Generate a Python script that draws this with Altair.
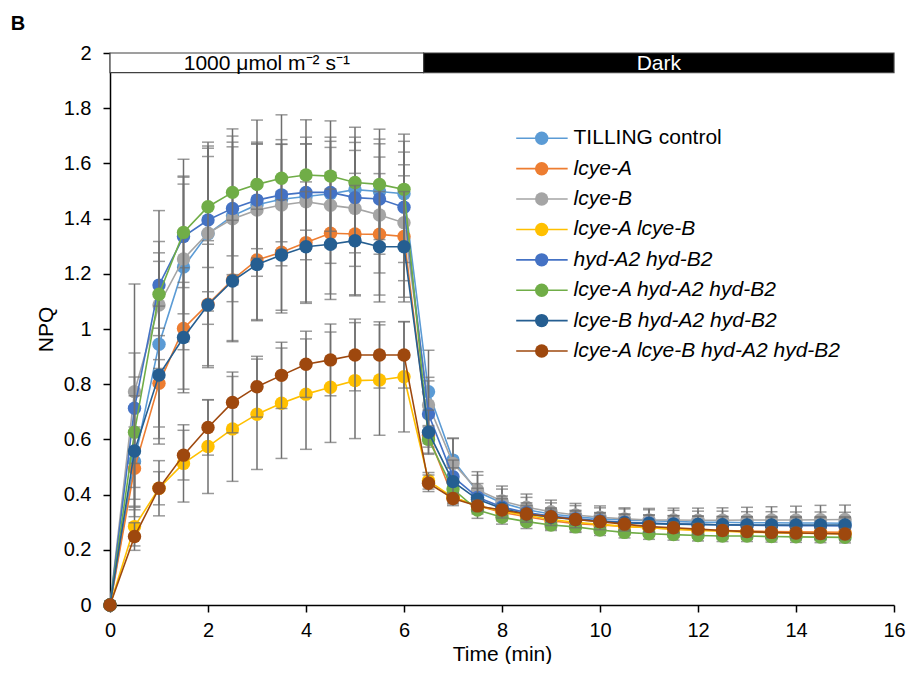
import altair as alt
import pandas as pd

# ---------------- data ----------------
times = [0, 0.5, 1, 1.5, 2, 2.5, 3, 3.5, 4, 4.5, 5, 5.5, 6,
         6.5, 7, 7.5, 8, 8.5, 9, 9.5, 10, 10.5, 11, 11.5, 12, 12.5, 13, 13.5, 14, 14.5, 15]

series_names = ["TILLING control", "lcye-A", "lcye-B", "lcye-A lcye-B", "hyd-A2 hyd-B2",
                "lcye-A hyd-A2 hyd-B2", "lcye-B hyd-A2 hyd-B2", "lcye-A lcye-B hyd-A2 hyd-B2"]
series_colors = ["#5B9BD5", "#ED7D31", "#A5A5A5", "#FFC000", "#4472C4",
                 "#70AD47", "#255E91", "#9E480E"]
series_italic = [False, True, True, True, True, True, True, True]

tilling = [0, 0.52, 0.945, 1.225, 1.345, 1.41, 1.45, 1.47, 1.48, 1.49, 1.505, 1.498, 1.49,
           0.773, 0.525, 0.41, 0.37, 0.345, 0.33, 0.32, 0.312, 0.308, 0.305, 0.303, 0.30, 0.30,
           0.298, 0.298, 0.297, 0.297, 0.296]
lcye_a = [0, 0.495, 0.803, 1.002, 1.09, 1.178, 1.25, 1.278, 1.313, 1.347, 1.344, 1.343, 1.335,
          0.615, 0.39, 0.36, 0.335, 0.32, 0.305, 0.295, 0.29, 0.285, 0.28, 0.275, 0.272, 0.27,
          0.268, 0.266, 0.265, 0.264, 0.263]
lcye_b = [0, 0.773, 1.087, 1.254, 1.347, 1.399, 1.431, 1.449, 1.461, 1.448, 1.437, 1.413, 1.385,
          0.725, 0.513, 0.417, 0.377, 0.354, 0.338, 0.326, 0.318, 0.312, 0.308, 0.308, 0.307, 0.307,
          0.308, 0.308, 0.308, 0.309, 0.31]
lcye_ab = [0, 0.284, 0.423, 0.513, 0.574, 0.638, 0.691, 0.731, 0.764, 0.789, 0.813, 0.815, 0.827,
           0.45, 0.39, 0.36, 0.34, 0.325, 0.31, 0.30, 0.292, 0.285, 0.28, 0.275, 0.27, 0.267,
           0.264, 0.262, 0.26, 0.259, 0.258]
hyd = [0, 0.713, 1.159, 1.335, 1.395, 1.437, 1.467, 1.486, 1.495, 1.495, 1.476, 1.471, 1.441,
       0.692, 0.465, 0.39, 0.355, 0.335, 0.322, 0.313, 0.305, 0.30, 0.297, 0.294, 0.292, 0.29,
       0.289, 0.288, 0.287, 0.287, 0.286]
lcye_a_hyd = [0, 0.626, 1.126, 1.35, 1.443, 1.495, 1.524, 1.546, 1.558, 1.554, 1.531, 1.524, 1.506,
              0.60, 0.42, 0.344, 0.318, 0.302, 0.29, 0.283, 0.272, 0.263, 0.258, 0.255, 0.252, 0.25,
              0.25, 0.248, 0.247, 0.246, 0.245]
lcye_b_hyd = [0, 0.558, 0.833, 0.969, 1.087, 1.174, 1.234, 1.268, 1.298, 1.307, 1.32, 1.298, 1.298,
              0.626, 0.447, 0.383, 0.35, 0.33, 0.318, 0.31, 0.303, 0.298, 0.295, 0.293, 0.292, 0.291,
              0.29, 0.29, 0.29, 0.29, 0.29]
lcye_ab_hyd = [0, 0.248, 0.423, 0.543, 0.643, 0.734, 0.791, 0.832, 0.872, 0.888, 0.906, 0.906, 0.906,
               0.441, 0.386, 0.359, 0.344, 0.33, 0.32, 0.31, 0.302, 0.293, 0.284, 0.28, 0.275, 0.27,
               0.266, 0.263, 0.261, 0.259, 0.257]

err_tilling = [0, 0.2, 0.3, 0.3, 0.28, 0.25, 0.22, 0.2, 0.19, 0.19, 0.19, 0.19, 0.19,
               0.15, 0.08, 0.06, 0.05, 0.045, 0.04, 0.04, 0.04, 0.04, 0.04, 0.04, 0.04, 0.04,
               0.04, 0.04, 0.04, 0.04, 0.04]
err_lcye_a = [0, 0.15, 0.2, 0.22, 0.23, 0.22, 0.22, 0.22, 0.22, 0.22, 0.22, 0.22, 0.22,
              0.03, 0.03, 0.03, 0.03, 0.03, 0.03, 0.03, 0.03, 0.03, 0.03, 0.03, 0.03, 0.03,
              0.03, 0.03, 0.03, 0.03, 0.03]
err_lcye_b = [0, 0.39, 0.23, 0.3, 0.33, 0.3, 0.24, 0.22, 0.21, 0.21, 0.21, 0.21, 0.21,
              0.1, 0.09, 0.066, 0.054, 0.048, 0.042, 0.042, 0.041, 0.04, 0.042, 0.043, 0.044,
              0.045, 0.046, 0.048, 0.05, 0.052, 0.052]
err_lcye_ab = [0, 0.07, 0.1, 0.14, 0.17, 0.19, 0.2, 0.2, 0.2, 0.2, 0.21, 0.2, 0.2,
               0.03, 0.02, 0.02, 0.02, 0.02, 0.02, 0.02, 0.02, 0.02, 0.02, 0.02, 0.02, 0.02,
               0.02, 0.02, 0.02, 0.02, 0.02]
err_hyd = [0, 0.2, 0.27, 0.28, 0.26, 0.24, 0.21, 0.2, 0.2, 0.2, 0.2, 0.2, 0.2,
           0.12, 0.06, 0.05, 0.04, 0.035, 0.03, 0.03, 0.03, 0.03, 0.03, 0.03, 0.03, 0.03,
           0.03, 0.03, 0.03, 0.03, 0.03]
err_lcye_a_hyd = [0, 0.2, 0.15, 0.2, 0.22, 0.23, 0.233, 0.23, 0.2, 0.2, 0.2, 0.2, 0.2,
                  0.05, 0.03, 0.03, 0.025, 0.025, 0.02, 0.02, 0.02, 0.02, 0.02, 0.02, 0.02, 0.02,
                  0.02, 0.02, 0.02, 0.02, 0.02]
err_lcye_b_hyd = [0, 0.2, 0.25, 0.2, 0.22, 0.22, 0.2, 0.2, 0.2, 0.2, 0.2, 0.2, 0.2,
                  0.08, 0.05, 0.04, 0.035, 0.03, 0.03, 0.03, 0.03, 0.03, 0.03, 0.03, 0.03, 0.03,
                  0.03, 0.03, 0.03, 0.03, 0.03]
err_lcye_ab_hyd = [0, 0.05, 0.06, 0.09, 0.1, 0.11, 0.11, 0.12, 0.12, 0.13, 0.13, 0.12, 0.12,
                   0.03, 0.02, 0.02, 0.02, 0.02, 0.02, 0.02, 0.02, 0.02, 0.02, 0.02, 0.02, 0.02,
                   0.02, 0.02, 0.02, 0.02, 0.02]

values = [tilling, lcye_a, lcye_b, lcye_ab, hyd, lcye_a_hyd, lcye_b_hyd, lcye_ab_hyd]
errors = [err_tilling, err_lcye_a, err_lcye_b, err_lcye_ab, err_hyd, err_lcye_a_hyd,
          err_lcye_b_hyd, err_lcye_ab_hyd]

# light / dark bar
light_end = 6.4
x_max = 16
bar_bottom, bar_top = 1.929, 2.0
light_label = "1000 \u03bcmol m\u207b\u00b2 s\u207b\u00b9"
dark_label = "Dark"

FONT = "Liberation Sans"

x_scale = alt.Scale(domain=[0, 16], nice=False, zero=False)
y_scale = alt.Scale(domain=[0, 2], nice=False, zero=False)
x_axis = alt.Axis(title="Time (min)", values=list(range(0, 17, 2)), format="d",
                  labelPadding=8, titlePadding=3, labelFlush=False)
y_axis = alt.Axis(title="NPQ", values=[round(0.2 * i, 1) for i in range(11)], format=".1~f",
                  labelPadding=12, titlePadding=7, labelFlush=False)

layers = []

# base axes layer (invisible points)
axis_df = pd.DataFrame({"t": [0, 16], "v": [0, 2]})
layers.append(
    alt.Chart(axis_df).mark_point(opacity=0).encode(
        x=alt.X("t:Q", scale=x_scale, axis=x_axis),
        y=alt.Y("v:Q", scale=y_scale, axis=y_axis),
    )
)

for name, color, vals, errs in zip(series_names, series_colors, values, errors):
    df = pd.DataFrame({"t": times, "v": vals, "e": errs})
    df["lo"] = df["v"] - df["e"]
    df["hi"] = df["v"] + df["e"]
    base = alt.Chart(df)
    eb = base.transform_filter("datum.e > 0")
    layers.append(eb.mark_rule(color="#6f6f6f", strokeWidth=1.5).encode(
        x=alt.X("t:Q", scale=x_scale), y=alt.Y("lo:Q", scale=y_scale), y2="hi:Q"))
    layers.append(eb.mark_tick(color="#6f6f6f", thickness=1.5, size=12, orient="horizontal").encode(
        x=alt.X("t:Q", scale=x_scale), y=alt.Y("lo:Q", scale=y_scale)))
    layers.append(eb.mark_tick(color="#6f6f6f", thickness=1.5, size=12, orient="horizontal").encode(
        x=alt.X("t:Q", scale=x_scale), y=alt.Y("hi:Q", scale=y_scale)))
    layers.append(base.mark_line(color=color, strokeWidth=1.6).encode(
        x=alt.X("t:Q", scale=x_scale), y=alt.Y("v:Q", scale=y_scale)))
    layers.append(base.mark_circle(color=color, size=180, opacity=1).encode(
        x=alt.X("t:Q", scale=x_scale), y=alt.Y("v:Q", scale=y_scale)))

# top light/dark bar
bar_df = pd.DataFrame({
    "x0": [0, light_end], "x1": [light_end, x_max],
    "y0": [bar_bottom, bar_bottom], "y1": [bar_top, bar_top],
    "label": [light_label, dark_label],
    "fill": ["white", "black"], "tc": ["black", "white"],
})
bar_df["xm"] = (bar_df["x0"] + bar_df["x1"]) / 2
bar_df["ym"] = (bar_df["y0"] + bar_df["y1"]) / 2
layers.append(alt.Chart(bar_df).mark_rect(stroke="#404040", strokeWidth=1.2).encode(
    x=alt.X("x0:Q", scale=x_scale), x2="x1:Q",
    y=alt.Y("y0:Q", scale=y_scale), y2="y1:Q",
    fill=alt.Fill("fill:N", scale=None)))
layers.append(alt.Chart(bar_df).mark_text(font=FONT, fontSize=21, baseline="middle", dy=1).encode(
    x=alt.X("xm:Q", scale=x_scale), y=alt.Y("ym:Q", scale=y_scale),
    text="label:N", color=alt.Color("tc:N", scale=None)))

# manual legend (in data space, right side of plot)
leg_y0 = 1.691
leg_step = 0.1101
leg_df = pd.DataFrame({
    "name": series_names, "color": series_colors, "italic": series_italic,
    "y": [leg_y0 - i * leg_step for i in range(len(series_names))],
})
leg_df["x0"] = 8.29
leg_df["x1"] = 9.34
leg_df["xm"] = 8.81
leg_df["xt"] = 9.46
leg = alt.Chart(leg_df)
layers.append(leg.mark_rule(strokeWidth=1.6).encode(
    x=alt.X("x0:Q", scale=x_scale), x2="x1:Q", y=alt.Y("y:Q", scale=y_scale),
    color=alt.Color("color:N", scale=None)))
layers.append(leg.mark_circle(size=180, opacity=1).encode(
    x=alt.X("xm:Q", scale=x_scale), y=alt.Y("y:Q", scale=y_scale),
    color=alt.Color("color:N", scale=None)))
layers.append(leg.transform_filter("!datum.italic").mark_text(
    font=FONT, fontSize=21, align="left", baseline="middle", color="black").encode(
    x=alt.X("xt:Q", scale=x_scale), y=alt.Y("y:Q", scale=y_scale), text="name:N"))
layers.append(leg.transform_filter("datum.italic").mark_text(
    font=FONT, fontSize=21, fontStyle="italic", align="left", baseline="middle", color="black").encode(
    x=alt.X("xt:Q", scale=x_scale), y=alt.Y("y:Q", scale=y_scale), text="name:N"))

# panel letter
layers.append(alt.Chart(pd.DataFrame({"l": ["B"]})).mark_text(
    font=FONT, fontSize=20, fontWeight="bold", align="center", baseline="middle", color="black"
).encode(x=alt.value(-92), y=alt.value(-29), text="l:N"))

chart = alt.layer(*layers).properties(
    width=784, height=552,
    autosize=alt.AutoSizeParams(type="none"),
    padding={"left": 102, "top": 45, "right": 12, "bottom": 59},
).configure_view(stroke=None).configure_axis(
    grid=False, domainColor="black", domainWidth=1.5, tickColor="black", tickWidth=1.5,
    tickSize=7, labelFont=FONT, titleFont=FONT, labelFontSize=20, titleFontSize=21,
    titleFontWeight="normal", labelColor="black", titleColor="black",
)

chart.save("out.html", embed_options={"renderer": "svg", "actions": False})
